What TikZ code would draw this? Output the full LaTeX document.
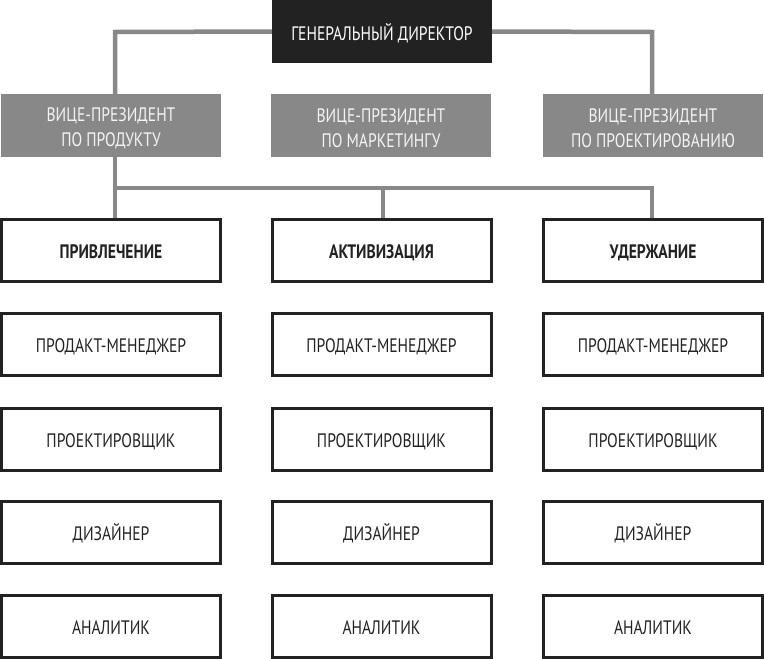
\documentclass[tikz,border=0pt]{standalone}
\usepackage{fontspec}
\setmainfont[FakeStretch=0.8]{PT Sans}
\usetikzlibrary{backgrounds}
\definecolor{dark}{HTML}{222222}
\definecolor{mid}{HTML}{888888}
\definecolor{vptext}{HTML}{F4F4F4}
\begin{document}
\begin{tikzpicture}[x=1pt,y=-1pt,
  every node/.style={outer sep=0pt, inner sep=0pt, align=center, font=\fontsize{19.5}{25}\selectfont},
  topbox/.style={fill=dark, text=white, minimum width=220pt, minimum height=63pt, text height=17pt, text depth=0pt},
  vpbox/.style={fill=mid, minimum width=220pt, minimum height=63pt},
  vplabel/.style={text=vptext, yshift=-3pt},
  rolebox/.style={draw=dark, line width=3pt, fill=white, text=dark, minimum width=219pt, minimum height=62pt, text height=16pt, text depth=0pt},
  headbox/.style={rolebox, font=\fontsize{19.5}{25}\selectfont\bfseries},
  link/.style={draw=mid, line width=4.5pt}]
\useasboundingbox (0,0) rectangle (764,659);

\coordinate (t1) at (115,32);
\coordinate (t3) at (652,32);
\coordinate (b1) at (115,188);
\coordinate (b2) at (383,188);
\coordinate (b3) at (652,188);

\node[topbox] (gd) at (382,31.5) {ГЕНЕРАЛЬНЫЙ ДИРЕКТОР};

\node[vpbox, label={[vplabel]center:ВИЦЕ-ПРЕЗИДЕНТ\\ПО ПРОДУКТУ}] (vp1) at (111,125.5) {};
\node[vpbox, label={[vplabel]center:ВИЦЕ-ПРЕЗИДЕНТ\\ПО МАРКЕТИНГУ}] (vp2) at (381,125.5) {};
\node[vpbox, label={[vplabel]center:ВИЦЕ-ПРЕЗИДЕНТ\\ПО ПРОЕКТИРОВАНИЮ}] (vp3) at (653,125.5) {};

\node[headbox] (h1) at (111,250.5) {ПРИВЛЕЧЕНИЕ};
\node[headbox] (h2) at (381.5,250.5) {АКТИВИЗАЦИЯ};
\node[headbox] (h3) at (653,250.5) {УДЕРЖАНИЕ};

\node[rolebox] (pm1) at (111,344) {ПРОДАКТ-МЕНЕДЖЕР};
\node[rolebox] (pm2) at (381.5,344) {ПРОДАКТ-МЕНЕДЖЕР};
\node[rolebox] (pm3) at (653,344) {ПРОДАКТ-МЕНЕДЖЕР};

\node[rolebox] (pr1) at (111,439) {ПРОЕКТИРОВЩИК};
\node[rolebox] (pr2) at (381.5,439) {ПРОЕКТИРОВЩИК};
\node[rolebox] (pr3) at (653,439) {ПРОЕКТИРОВЩИК};

\node[rolebox] (d1) at (111,532.5) {ДИЗАЙНЕР};
\node[rolebox] (d2) at (381.5,532.5) {ДИЗАЙНЕР};
\node[rolebox] (d3) at (653,532.5) {ДИЗАЙНЕР};

\node[rolebox] (a1) at (111,626) {АНАЛИТИК};
\node[rolebox] (a2) at (381.5,626) {АНАЛИТИК};
\node[rolebox] (a3) at (653,626) {АНАЛИТИК};

\begin{scope}[on background layer]
\fill[white] (0,0) rectangle (764,659);
\path[link] (gd.west) -- (t1) -- (t1 |- vp1.north);
\path[link] (gd.east) -- (t3) -- (t3 |- vp3.north);
\path[link] (b1 |- vp1.south) -- (b1 |- h1.north);
\path[link] (b1) -- (b3) -- (b3 |- h3.north);
\path[link] (b2) -- (b2 |- h2.north);
\end{scope}
\end{tikzpicture}
\end{document}
